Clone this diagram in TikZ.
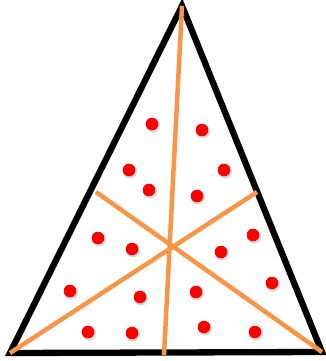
\documentclass[tikz,border=0pt]{standalone}
\usepackage{tikz}
\usepackage{xcolor}
\newcommand{\DotRpx}{6.3}
\newcommand{\EdgeW}{6.3pt}
\newcommand{\CutW}{4.5pt}
\definecolor{CutOrange}{RGB}{247,150,70}
\colorlet{DotRed}{red}
\colorlet{DotShade}{black!35}

\begin{document}
\begin{tikzpicture}[x=1pt, y=-1pt]
		\useasboundingbox (0,0) rectangle (326,361);
		
		% corners of the triangle
		\coordinate (apex) at (182,6);
		\coordinate (botL) at (10,353);
		\coordinate (botR) at (322,352);
		% ends of the cut lines
		\coordinate (midB) at (164,355);
		\coordinate (sideL) at (96,192);
		\coordinate (sideR) at (257,192);
		
		\draw[black, line width=\EdgeW, line join=miter] (apex) -- (botR) -- (botL) -- cycle;
		
		\draw[CutOrange, line width=\CutW] (apex) -- (midB);
		\draw[CutOrange, line width=\CutW] (sideL) -- (botR);
		\draw[CutOrange, line width=\CutW] (sideR) -- (botL);
		
		\foreach \px/\py in {152/124, 202/130, 129/170, 224/170,
			149/190, 197/196, 98/238, 132/249, 253/235, 221/252,
			70/291, 140/297, 196/292, 272/283,
			88/332, 132/333, 204/327, 255/332}{
			\fill[DotShade, opacity=0.45] (\px+1, \py+1.5) circle (\DotRpx+0.7);
			\fill[DotRed] (\px, \py) circle (\DotRpx);
		}
	\end{tikzpicture}
\end{document}
